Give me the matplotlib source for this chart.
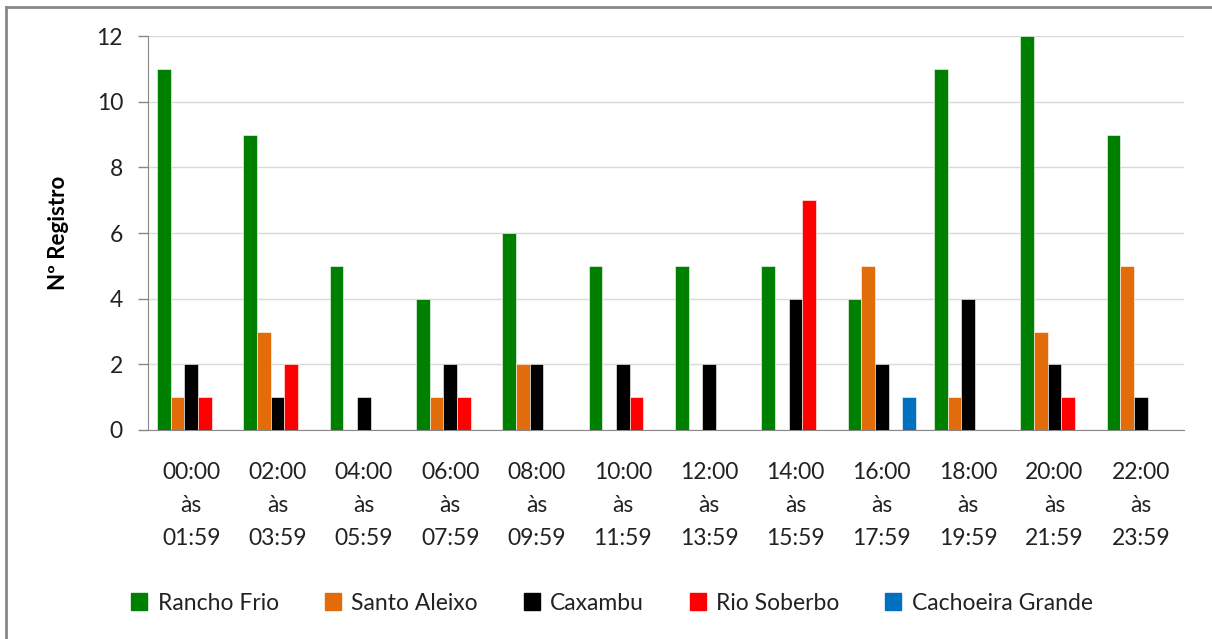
import numpy as np
import matplotlib.pyplot as plt
from matplotlib.lines import Line2D
from matplotlib.patches import Patch

# Faixas horárias
faixas = ["00:00\nàs\n01:59", "02:00\nàs\n03:59", "04:00\nàs\n05:59",
          "06:00\nàs\n07:59", "08:00\nàs\n09:59", "10:00\nàs\n11:59",
          "12:00\nàs\n13:59", "14:00\nàs\n15:59", "16:00\nàs\n17:59",
          "18:00\nàs\n19:59", "20:00\nàs\n21:59", "22:00\nàs\n23:59"]

# Número de registros por localidade
rancho_frio      = [11, 9, 5, 4, 6, 5, 5, 5, 4, 11, 12, 9]
santo_aleixo     = [1, 3, 0, 1, 2, 0, 0, 0, 5, 1, 3, 5]
caxambu          = [2, 1, 1, 2, 2, 2, 2, 4, 2, 4, 2, 1]
rio_soberbo      = [1, 2, 0, 1, 0, 1, 0, 7, 0, 0, 1, 0]
cachoeira_grande = [0, 0, 0, 0, 0, 0, 0, 0, 1, 0, 0, 0]

series = [
    ("Rancho Frio", rancho_frio, "#008000"),
    ("Santo Aleixo", santo_aleixo, "#E36C0A"),
    ("Caxambu", caxambu, "#000000"),
    ("Rio Soberbo", rio_soberbo, "#FF0000"),
    ("Cachoeira Grande", cachoeira_grande, "#0070C0"),
]

plt.rcParams['font.family'] = ['Lato', 'DejaVu Sans']

fig = plt.figure(figsize=(12.12, 6.39), dpi=100)
ax = fig.add_axes([148/1212, 1 - 430/639, (1184 - 148)/1212, (430 - 36)/639])

x = np.arange(len(faixas))
larg = 0.158
for i, (nome, vals, cor) in enumerate(series):
    ax.bar(x + (i - 2) * larg, vals, width=larg, color=cor, label=nome,
           edgecolor="white", linewidth=0.4, zorder=3)

ax.set_xlim(-0.5, len(faixas) - 0.5)
ax.set_ylim(0, 12)
ax.set_yticks(range(0, 13, 2))
ax.set_xticks(x)
ax.set_xticklabels(faixas, fontsize=16.5, color="#222222", linespacing=1.7)
ax.tick_params(axis="x", length=0, pad=23)
ax.tick_params(axis="y", length=7, width=1, color="#888888", pad=11,
               labelsize=16.5, labelcolor="#222222")
ax.grid(axis="y", color="#d9d9d9", linewidth=1, zorder=0)
for lado in ["top", "right"]:
    ax.spines[lado].set_visible(False)
ax.spines["left"].set_color("#888888")
ax.spines["bottom"].set_color("#888888")
ax.set_ylabel("Nº Registro", fontsize=16, fontweight="bold", labelpad=20)

# Legenda abaixo do gráfico
handles = [Patch(facecolor=c, edgecolor=c) for _, _, c in series]
fig.legend(handles, [n for n, _, _ in series], loc="center",
           bbox_to_anchor=(612/1212, 1 - 603/639), ncol=5, frameon=False,
           fontsize=16.5, handlelength=0.7, handleheight=0.7,
           handletextpad=0.45, columnspacing=2.0, labelcolor="#222222")

# Moldura do gráfico
fig.add_artist(Line2D([6/1212, 1], [1 - 7/639, 1 - 7/639],
                      transform=fig.transFigure, color="#888888", linewidth=2))
fig.add_artist(Line2D([6/1212, 6/1212], [0, 1 - 7/639],
                      transform=fig.transFigure, color="#888888", linewidth=2))

fig.savefig("out.png", dpi=100)
